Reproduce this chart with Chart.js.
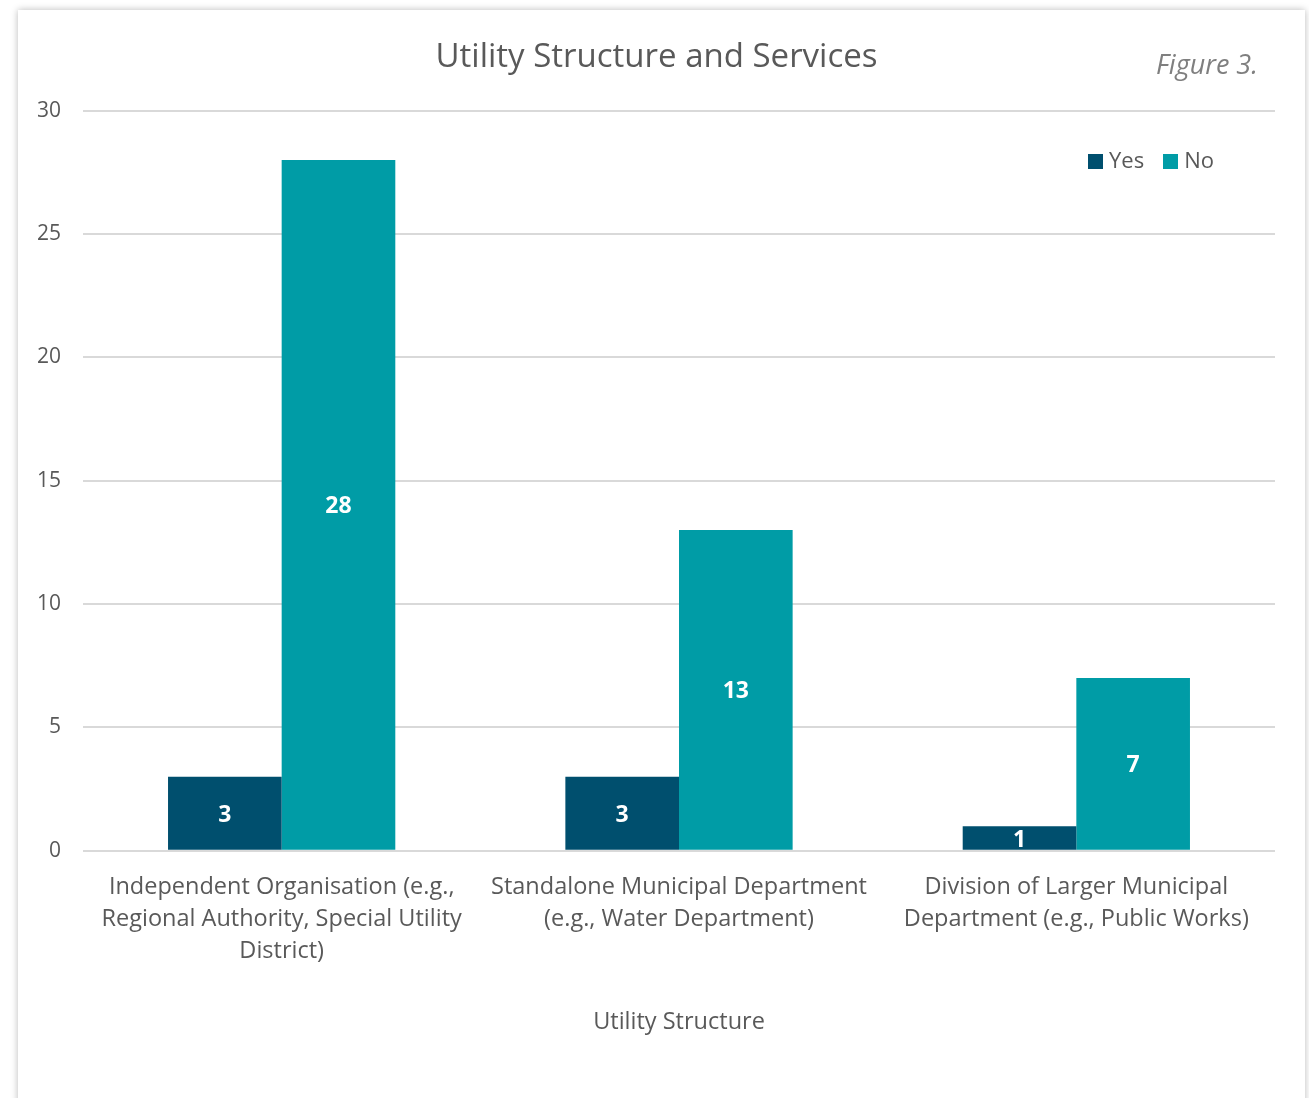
<!DOCTYPE html>
<html>
<head>
<meta charset="utf-8">
<script src="https://cdn.jsdelivr.net/npm/chart.js@4/dist/chart.umd.min.js"></script>
<style>
  body { margin: 0; background: #fff; width: 1309px; height: 1098px; overflow: hidden; font-family: "Open Sans", sans-serif; }
  #card { position: absolute; left: 18px; top: 10px; width: 1287px; height: 1110px; background: #fff; box-shadow: 0 0 7px rgba(0,0,0,0.28); }
  #fig { position: absolute; right: 47px; top: 35px; font-size: 27px; font-style: italic; color: #7f7f7f; line-height: 37px; }
  #legend { position: absolute; left: 1070px; top: 134px; font-size: 22px; color: #595959; white-space: nowrap; }
  #legend span.box { display: inline-block; width: 15px; height: 15px; margin-right: 6px; vertical-align: -1px; }
  #legend span.item { margin-right: 19px; }
</style>
</head>
<body>
<div id="card">
  <canvas id="chart" width="1287" height="1088"></canvas>
  <div id="fig">Figure 3.</div>
  <div id="legend"></div>
</div>
<script>
var categories = [
    ["Independent Organisation (e.g.,", "Regional Authority, Special Utility", "District)"],
    ["Standalone Municipal Department", "(e.g., Water Department)"],
    ["Division of Larger Municipal", "Department (e.g., Public Works)"]
];
var seriesNames = ["Yes", "No"];
var yesValues = [3, 3, 1];
var noValues = [28, 13, 7];
var colors = ["#004f6e", "#009ca6"];

// legend as html
var legendHtml = "";
seriesNames.forEach(function(name, i) {
    legendHtml += '<span class="item"><span class="box" style="background:' + colors[i] + '"></span>' + name + '</span>';
});
document.getElementById("legend").innerHTML = legendHtml;

var barLabels = {
    id: "barLabels",
    afterDatasetsDraw: function(chart) {
        var ctx = chart.ctx;
        ctx.save();
        ctx.font = "bold 23px 'Open Sans'";
        ctx.fillStyle = "#fff";
        ctx.textAlign = "center";
        ctx.textBaseline = "middle";
        chart.data.datasets.forEach(function(ds, di) {
            chart.getDatasetMeta(di).data.forEach(function(bar, i) {
                ctx.fillText(ds.data[i], bar.x, (bar.y + bar.base) / 2 + 2);
            });
        });
        ctx.restore();
    }
};

var ctx = document.getElementById("chart").getContext("2d");
var chart = new Chart(ctx, {
    type: "bar",
    data: {
        labels: categories,
        datasets: [
            { label: seriesNames[0], data: yesValues, backgroundColor: colors[0] },
            { label: seriesNames[1], data: noValues, backgroundColor: colors[1] }
        ]
    },
    options: {
        responsive: false,
        animation: false,
        layout: { padding: { left: 20, right: 30, top: 10, bottom: 62 } },
        datasets: { bar: { barPercentage: 1, categoryPercentage: 0.572 } },
        plugins: {
            legend: { display: false },
            tooltip: { enabled: false },
            title: {
                display: true,
                text: "Utility Structure and Services",
                color: "#595959",
                font: { family: "'Open Sans'", size: 33, weight: "normal" },
                padding: { top: 18, bottom: 33 }
            }
        },
        scales: {
            x: {
                grid: { display: false, drawTicks: false },
                border: { display: false },
                ticks: {
                    color: "#595959",
                    font: { family: "'Open Sans'", size: 23.5, lineHeight: 32 / 23.5 },
                    padding: 21,
                    maxRotation: 0,
                    autoSkip: false
                },
                title: {
                    display: true,
                    text: "Utility Structure",
                    color: "#595959",
                    font: { family: "'Open Sans'", size: 23.5 },
                    padding: { top: 19, bottom: 0 }
                }
            },
            y: {
                min: 0,
                max: 30,
                ticks: {
                    stepSize: 5,
                    color: "#595959",
                    font: { family: "'Open Sans'", size: 21 },
                    padding: 22
                },
                grid: { color: "#d9d9d9", lineWidth: 2, drawTicks: false },
                border: { display: false },
                afterFit: function(scale) { scale.width = 45; }
            }
        }
    },
    plugins: [barLabels]
});
</script>
</body>
</html>
